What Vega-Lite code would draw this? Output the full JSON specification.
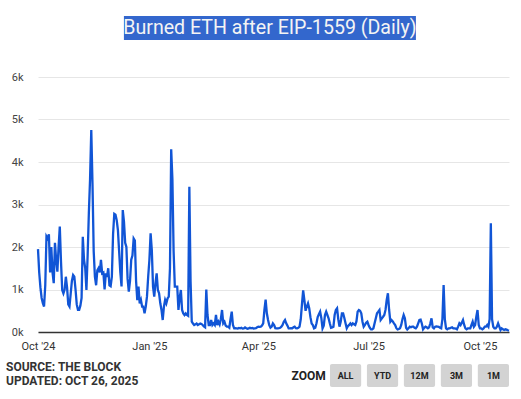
{
  "$schema": "https://vega.github.io/schema/vega-lite/v6.json",
  "background": "white",
  "padding": {"left": 6, "top": 16, "right": 0, "bottom": 0},
  "autosize": {"type": "pad"},
  "bounds": "flush",
  "spacing": 32,
  "config": {"view": {"stroke": null}, "font": "Roboto"},
  "vconcat": [
    {
      "width": 471,
      "height": 29,
      "data": {"values": [{"t": "Burned ETH after EIP-1559 (Daily)"}]},
      "encoding": {
        "x": {"field": "t", "type": "nominal", "axis": null, "scale": {"paddingInner": 0, "paddingOuter": 0.3065, "align": 0.48}},
        "y": {"field": "t", "type": "nominal", "axis": null, "scale": {"paddingInner": 0, "paddingOuter": 0.104, "align": 0}}
      },
      "layer": [
        {"mark": {"type": "rect", "color": "#3367cd"}},
        {"mark": {"type": "text", "font": "Roboto", "fontSize": 19.6, "color": "#f4f4f4"}, "encoding": {"text": {"field": "t"}}}
      ]
    },
    {
      "width": 471,
      "height": 255,
      "data": {"values": [
{"d":"2024-10-01","v":1950},{"d":"2024-10-02","v":1400},{"d":"2024-10-03","v":1050},{"d":"2024-10-04","v":800},{"d":"2024-10-05","v":680},{"d":"2024-10-06","v":600},{"d":"2024-10-07","v":1100},{"d":"2024-10-08","v":2250},{"d":"2024-10-09","v":2200},{"d":"2024-10-10","v":2300},{"d":"2024-10-11","v":1400},{"d":"2024-10-12","v":2000},{"d":"2024-10-13","v":1400},{"d":"2024-10-14","v":1150},{"d":"2024-10-15","v":2100},{"d":"2024-10-16","v":1700},{"d":"2024-10-17","v":1420},{"d":"2024-10-18","v":2000},{"d":"2024-10-19","v":2480},{"d":"2024-10-20","v":1650},{"d":"2024-10-21","v":990},{"d":"2024-10-22","v":910},{"d":"2024-10-23","v":1000},{"d":"2024-10-24","v":1300},{"d":"2024-10-25","v":1050},{"d":"2024-10-26","v":650},{"d":"2024-10-27","v":600},{"d":"2024-10-28","v":900},{"d":"2024-10-29","v":1200},{"d":"2024-10-30","v":1340},{"d":"2024-10-31","v":1300},
{"d":"2024-11-01","v":1000},{"d":"2024-11-02","v":650},{"d":"2024-11-03","v":520},{"d":"2024-11-04","v":520},{"d":"2024-11-05","v":620},{"d":"2024-11-06","v":800},{"d":"2024-11-07","v":2240},{"d":"2024-11-08","v":1700},{"d":"2024-11-09","v":1500},{"d":"2024-11-10","v":990},{"d":"2024-11-11","v":1800},{"d":"2024-11-12","v":2800},{"d":"2024-11-13","v":3600},{"d":"2024-11-14","v":4750},{"d":"2024-11-15","v":3500},{"d":"2024-11-16","v":1900},{"d":"2024-11-17","v":1300},{"d":"2024-11-18","v":1100},{"d":"2024-11-19","v":1450},{"d":"2024-11-20","v":1500},{"d":"2024-11-21","v":1400},{"d":"2024-11-22","v":1700},{"d":"2024-11-23","v":1380},{"d":"2024-11-24","v":1400},{"d":"2024-11-25","v":1000},{"d":"2024-11-26","v":1380},{"d":"2024-11-27","v":1300},{"d":"2024-11-28","v":1500},{"d":"2024-11-29","v":1100},{"d":"2024-11-30","v":1080},
{"d":"2024-12-01","v":1300},{"d":"2024-12-02","v":2300},{"d":"2024-12-03","v":2780},{"d":"2024-12-04","v":2760},{"d":"2024-12-05","v":2630},{"d":"2024-12-06","v":2400},{"d":"2024-12-07","v":1900},{"d":"2024-12-08","v":1400},{"d":"2024-12-09","v":1070},{"d":"2024-12-10","v":2870},{"d":"2024-12-11","v":2600},{"d":"2024-12-12","v":2100},{"d":"2024-12-13","v":2000},{"d":"2024-12-14","v":1250},{"d":"2024-12-15","v":950},{"d":"2024-12-16","v":1200},{"d":"2024-12-17","v":1700},{"d":"2024-12-18","v":1800},{"d":"2024-12-19","v":2200},{"d":"2024-12-20","v":2150},{"d":"2024-12-21","v":1200},{"d":"2024-12-22","v":750},{"d":"2024-12-23","v":1067},{"d":"2024-12-24","v":675},{"d":"2024-12-25","v":753},{"d":"2024-12-26","v":596},{"d":"2024-12-27","v":596},{"d":"2024-12-28","v":439},{"d":"2024-12-29","v":596},{"d":"2024-12-30","v":831},{"d":"2024-12-31","v":1300},
{"d":"2025-01-01","v":1694},{"d":"2025-01-02","v":2322},{"d":"2025-01-03","v":1929},{"d":"2025-01-04","v":1067},{"d":"2025-01-05","v":831},{"d":"2025-01-06","v":1145},{"d":"2025-01-07","v":1380},{"d":"2025-01-08","v":988},{"d":"2025-01-09","v":910},{"d":"2025-01-10","v":675},{"d":"2025-01-11","v":518},{"d":"2025-01-12","v":282},{"d":"2025-01-13","v":596},{"d":"2025-01-14","v":753},{"d":"2025-01-15","v":675},{"d":"2025-01-16","v":790},{"d":"2025-01-17","v":831},{"d":"2025-01-18","v":1500},{"d":"2025-01-19","v":4300},{"d":"2025-01-20","v":3600},{"d":"2025-01-21","v":1900},{"d":"2025-01-22","v":1067},{"d":"2025-01-23","v":1067},{"d":"2025-01-24","v":1067},{"d":"2025-01-25","v":518},{"d":"2025-01-26","v":800},{"d":"2025-01-27","v":988},{"d":"2025-01-28","v":518},{"d":"2025-01-29","v":439},{"d":"2025-01-30","v":400},{"d":"2025-01-31","v":439},
{"d":"2025-02-01","v":400},{"d":"2025-02-02","v":380},{"d":"2025-02-03","v":3420},{"d":"2025-02-04","v":1200},{"d":"2025-02-05","v":243},{"d":"2025-02-06","v":200},{"d":"2025-02-07","v":165},{"d":"2025-02-08","v":180},{"d":"2025-02-09","v":200},{"d":"2025-02-10","v":165},{"d":"2025-02-11","v":180},{"d":"2025-02-12","v":200},{"d":"2025-02-13","v":190},{"d":"2025-02-14","v":165},{"d":"2025-02-15","v":130},{"d":"2025-02-16","v":110},{"d":"2025-02-17","v":1000},{"d":"2025-02-18","v":400},{"d":"2025-02-19","v":165},{"d":"2025-02-20","v":165},{"d":"2025-02-21","v":282},{"d":"2025-02-22","v":165},{"d":"2025-02-23","v":204},{"d":"2025-02-24","v":165},{"d":"2025-02-25","v":400},{"d":"2025-02-26","v":165},{"d":"2025-02-27","v":243},{"d":"2025-02-28","v":180},
{"d":"2025-03-01","v":300},{"d":"2025-03-02","v":518},{"d":"2025-03-03","v":204},{"d":"2025-03-04","v":243},{"d":"2025-03-05","v":150},{"d":"2025-03-06","v":125},{"d":"2025-03-07","v":125},{"d":"2025-03-08","v":100},{"d":"2025-03-09","v":300},{"d":"2025-03-10","v":478},{"d":"2025-03-11","v":165},{"d":"2025-03-12","v":86},{"d":"2025-03-13","v":90},{"d":"2025-03-14","v":86},{"d":"2025-03-15","v":80},{"d":"2025-03-16","v":95},{"d":"2025-03-17","v":86},{"d":"2025-03-18","v":100},{"d":"2025-03-19","v":80},{"d":"2025-03-20","v":86},{"d":"2025-03-21","v":110},{"d":"2025-03-22","v":90},{"d":"2025-03-23","v":75},{"d":"2025-03-24","v":86},{"d":"2025-03-25","v":100},{"d":"2025-03-26","v":86},{"d":"2025-03-27","v":95},{"d":"2025-03-28","v":80},{"d":"2025-03-29","v":86},{"d":"2025-03-30","v":90},{"d":"2025-03-31","v":110},
{"d":"2025-04-01","v":125},{"d":"2025-04-02","v":120},{"d":"2025-04-03","v":125},{"d":"2025-04-04","v":150},{"d":"2025-04-05","v":204},{"d":"2025-04-06","v":518},{"d":"2025-04-07","v":760},{"d":"2025-04-08","v":440},{"d":"2025-04-09","v":282},{"d":"2025-04-10","v":160},{"d":"2025-04-11","v":100},{"d":"2025-04-12","v":125},{"d":"2025-04-13","v":204},{"d":"2025-04-14","v":165},{"d":"2025-04-15","v":90},{"d":"2025-04-16","v":86},{"d":"2025-04-17","v":86},{"d":"2025-04-18","v":90},{"d":"2025-04-19","v":100},{"d":"2025-04-20","v":125},{"d":"2025-04-21","v":165},{"d":"2025-04-22","v":243},{"d":"2025-04-23","v":282},{"d":"2025-04-24","v":204},{"d":"2025-04-25","v":150},{"d":"2025-04-26","v":86},{"d":"2025-04-27","v":86},{"d":"2025-04-28","v":90},{"d":"2025-04-29","v":86},{"d":"2025-04-30","v":110},
{"d":"2025-05-01","v":125},{"d":"2025-05-02","v":90},{"d":"2025-05-03","v":86},{"d":"2025-05-04","v":100},{"d":"2025-05-05","v":125},{"d":"2025-05-06","v":300},{"d":"2025-05-07","v":650},{"d":"2025-05-08","v":980},{"d":"2025-05-09","v":750},{"d":"2025-05-10","v":500},{"d":"2025-05-11","v":600},{"d":"2025-05-12","v":675},{"d":"2025-05-13","v":557},{"d":"2025-05-14","v":350},{"d":"2025-05-15","v":200},{"d":"2025-05-16","v":165},{"d":"2025-05-17","v":86},{"d":"2025-05-18","v":100},{"d":"2025-05-19","v":204},{"d":"2025-05-20","v":350},{"d":"2025-05-21","v":420},{"d":"2025-05-22","v":478},{"d":"2025-05-23","v":330},{"d":"2025-05-24","v":86},{"d":"2025-05-25","v":150},{"d":"2025-05-26","v":400},{"d":"2025-05-27","v":478},{"d":"2025-05-28","v":400},{"d":"2025-05-29","v":322},{"d":"2025-05-30","v":204},{"d":"2025-05-31","v":100},
{"d":"2025-06-01","v":110},{"d":"2025-06-02","v":125},{"d":"2025-06-03","v":400},{"d":"2025-06-04","v":518},{"d":"2025-06-05","v":557},{"d":"2025-06-06","v":300},{"d":"2025-06-07","v":125},{"d":"2025-06-08","v":243},{"d":"2025-06-09","v":440},{"d":"2025-06-10","v":440},{"d":"2025-06-11","v":330},{"d":"2025-06-12","v":204},{"d":"2025-06-13","v":86},{"d":"2025-06-14","v":140},{"d":"2025-06-15","v":165},{"d":"2025-06-16","v":204},{"d":"2025-06-17","v":165},{"d":"2025-06-18","v":204},{"d":"2025-06-19","v":180},{"d":"2025-06-20","v":165},{"d":"2025-06-21","v":250},{"d":"2025-06-22","v":480},{"d":"2025-06-23","v":518},{"d":"2025-06-24","v":500},{"d":"2025-06-25","v":440},{"d":"2025-06-26","v":243},{"d":"2025-06-27","v":125},{"d":"2025-06-28","v":165},{"d":"2025-06-29","v":220},{"d":"2025-06-30","v":243},
{"d":"2025-07-01","v":165},{"d":"2025-07-02","v":100},{"d":"2025-07-03","v":60},{"d":"2025-07-04","v":60},{"d":"2025-07-05","v":86},{"d":"2025-07-06","v":204},{"d":"2025-07-07","v":322},{"d":"2025-07-08","v":440},{"d":"2025-07-09","v":478},{"d":"2025-07-10","v":518},{"d":"2025-07-11","v":282},{"d":"2025-07-12","v":322},{"d":"2025-07-13","v":360},{"d":"2025-07-14","v":400},{"d":"2025-07-15","v":520},{"d":"2025-07-16","v":753},{"d":"2025-07-17","v":910},{"d":"2025-07-18","v":518},{"d":"2025-07-19","v":243},{"d":"2025-07-20","v":282},{"d":"2025-07-21","v":250},{"d":"2025-07-22","v":204},{"d":"2025-07-23","v":165},{"d":"2025-07-24","v":90},{"d":"2025-07-25","v":60},{"d":"2025-07-26","v":70},{"d":"2025-07-27","v":90},{"d":"2025-07-28","v":165},{"d":"2025-07-29","v":300},{"d":"2025-07-30","v":400},{"d":"2025-07-31","v":322},
{"d":"2025-08-01","v":100},{"d":"2025-08-02","v":60},{"d":"2025-08-03","v":86},{"d":"2025-08-04","v":125},{"d":"2025-08-05","v":110},{"d":"2025-08-06","v":125},{"d":"2025-08-07","v":125},{"d":"2025-08-08","v":100},{"d":"2025-08-09","v":86},{"d":"2025-08-10","v":125},{"d":"2025-08-11","v":204},{"d":"2025-08-12","v":282},{"d":"2025-08-13","v":290},{"d":"2025-08-14","v":200},{"d":"2025-08-15","v":63},{"d":"2025-08-16","v":100},{"d":"2025-08-17","v":125},{"d":"2025-08-18","v":110},{"d":"2025-08-19","v":86},{"d":"2025-08-20","v":110},{"d":"2025-08-21","v":200},{"d":"2025-08-22","v":322},{"d":"2025-08-23","v":110},{"d":"2025-08-24","v":86},{"d":"2025-08-25","v":125},{"d":"2025-08-26","v":130},{"d":"2025-08-27","v":125},{"d":"2025-08-28","v":120},{"d":"2025-08-29","v":100},{"d":"2025-08-30","v":86},{"d":"2025-08-31","v":300},
{"d":"2025-09-01","v":1106},{"d":"2025-09-02","v":300},{"d":"2025-09-03","v":86},{"d":"2025-09-04","v":63},{"d":"2025-09-05","v":86},{"d":"2025-09-06","v":86},{"d":"2025-09-07","v":100},{"d":"2025-09-08","v":110},{"d":"2025-09-09","v":86},{"d":"2025-09-10","v":86},{"d":"2025-09-11","v":80},{"d":"2025-09-12","v":63},{"d":"2025-09-13","v":125},{"d":"2025-09-14","v":204},{"d":"2025-09-15","v":165},{"d":"2025-09-16","v":220},{"d":"2025-09-17","v":282},{"d":"2025-09-18","v":165},{"d":"2025-09-19","v":86},{"d":"2025-09-20","v":63},{"d":"2025-09-21","v":86},{"d":"2025-09-22","v":86},{"d":"2025-09-23","v":86},{"d":"2025-09-24","v":165},{"d":"2025-09-25","v":243},{"d":"2025-09-26","v":125},{"d":"2025-09-27","v":165},{"d":"2025-09-28","v":361},{"d":"2025-09-29","v":518},{"d":"2025-09-30","v":165},
{"d":"2025-10-01","v":86},{"d":"2025-10-02","v":86},{"d":"2025-10-03","v":63},{"d":"2025-10-04","v":86},{"d":"2025-10-05","v":125},{"d":"2025-10-06","v":125},{"d":"2025-10-07","v":165},{"d":"2025-10-08","v":125},{"d":"2025-10-09","v":300},{"d":"2025-10-10","v":2557},{"d":"2025-10-11","v":300},{"d":"2025-10-12","v":125},{"d":"2025-10-13","v":86},{"d":"2025-10-14","v":86},{"d":"2025-10-15","v":125},{"d":"2025-10-16","v":204},{"d":"2025-10-17","v":125},{"d":"2025-10-18","v":47},{"d":"2025-10-19","v":86},{"d":"2025-10-20","v":63},{"d":"2025-10-21","v":47},{"d":"2025-10-22","v":63},{"d":"2025-10-23","v":55},{"d":"2025-10-24","v":40},{"d":"2025-10-25","v":31}
      ]},
      "mark": {"type": "line", "color": "#1155d6", "strokeWidth": 2.3, "interpolate": "linear"},
      "encoding": {
        "x": {
          "field": "d", "type": "temporal", "scale": {"type": "utc"},
          "axis": {
            "title": null, "grid": false, "ticks": false, "tickSize": 0, "labelPadding": 8,
            "values": [
              {"year": 2024, "month": 10, "date": 1, "utc": true},
              {"year": 2025, "month": 1, "date": 1, "utc": true},
              {"year": 2025, "month": 4, "date": 1, "utc": true},
              {"year": 2025, "month": 7, "date": 1, "utc": true},
              {"year": 2025, "month": 10, "date": 1, "utc": true}
            ],
            "format": "%b '%y", "labelFlush": false, "labelOverlap": false,
            "labelFont": "Roboto", "labelFontSize": 11, "labelColor": "#333333",
            "domainColor": "#333333", "domainWidth": 1.5
          }
        },
        "y": {
          "field": "v", "type": "quantitative", "scale": {"domain": [0, 6000], "nice": false},
          "axis": {
            "title": null, "domain": false, "ticks": false, "tickSize": 0, "labelPadding": 15,
            "values": [0, 1000, 2000, 3000, 4000, 5000, 6000], "format": "~s",
            "labelFont": "Roboto", "labelFontSize": 11, "labelColor": "#444444",
            "gridColor": "#e6e6e6", "gridWidth": 1
          }
        }
      }
    },
    {
      "width": 471,
      "height": 23,
      "title": {
        "text": ["SOURCE: THE BLOCK", "UPDATED: OCT 26, 2025"],
        "orient": "top", "anchor": "start", "frame": "group", "offset": 0,
        "baseline": "top", "dx": -32, "dy": 24, "lineHeight": 14,
        "font": "Roboto", "fontSize": 12, "fontWeight": "bold", "color": "#333333"
      },
      "data": {"values": [{"b": "ZOOM"}, {"b": "ALL"}, {"b": "YTD"}, {"b": "12M"}, {"b": "3M"}, {"b": "1M"}]},
      "encoding": {
        "x": {"field": "b", "type": "nominal", "sort": null, "axis": null,
              "scale": {"domain": ["ZOOM", "ALL", "YTD", "12M", "3M", "1M"], "range": [255, 471], "paddingInner": 0.156, "paddingOuter": 0}}
      },
      "layer": [
        {"transform": [{"filter": "datum.b != 'ZOOM'"}], "mark": {"type": "rect", "color": "#d3d3d3", "cornerRadius": 2}},
        {"mark": {"type": "text", "font": "Roboto", "fontWeight": "bold", "color": "#222222"},
         "encoding": {"text": {"field": "b"}, "size": {"condition": {"test": "datum.b == 'ZOOM'", "value": 12}, "value": 9}}}
      ]
    }
  ]
}
